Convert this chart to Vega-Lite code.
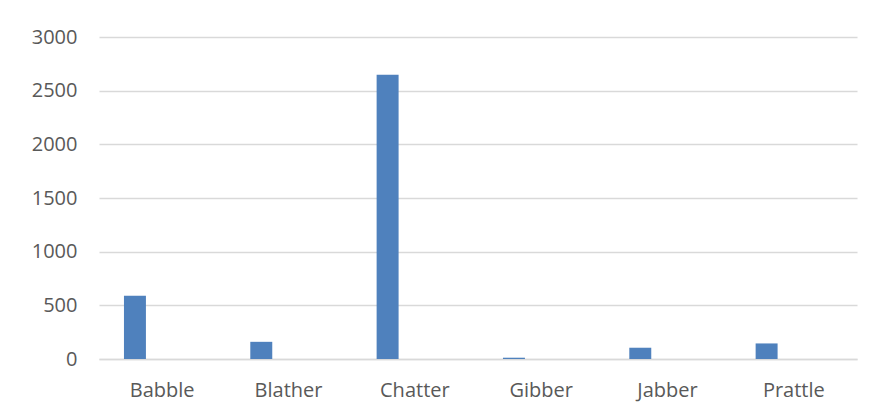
{
  "$schema": "https://vega.github.io/schema/vega-lite/v6.json",
  "width": 758,
  "height": 322,
  "autosize": {"type": "none"},
  "padding": {"left": 99, "top": 37, "right": 16, "bottom": 60},
  "background": "white",
  "config": {
    "view": {"stroke": null},
    "font": "Open Sans",
    "axis": {"labelFont": "Open Sans", "labelFontSize": 20, "labelColor": "#595959"}
  },
  "data": {
    "values": [
      {"category": "Babble", "series": "Series1", "value": 590},
      {"category": "Blather", "series": "Series1", "value": 160},
      {"category": "Chatter", "series": "Series1", "value": 2648},
      {"category": "Gibber", "series": "Series1", "value": 12},
      {"category": "Jabber", "series": "Series1", "value": 105},
      {"category": "Prattle", "series": "Series1", "value": 145}
    ]
  },
  "mark": {"type": "bar", "color": "#4f81bd"},
  "encoding": {
    "x": {
      "field": "category",
      "type": "nominal",
      "sort": null,
      "scale": {"paddingInner": 0, "paddingOuter": 0},
      "axis": {
        "title": null,
        "labelAngle": 0,
        "ticks": false,
        "domain": true,
        "domainColor": "#d9d9d9",
        "domainWidth": 1.3,
        "labelPadding": 21,
        "grid": false
      }
    },
    "xOffset": {
      "field": "series",
      "type": "nominal",
      "scale": {"domain": ["Series1", "Series2", "Series3"], "paddingInner": 0.193, "paddingOuter": 0.917}
    },
    "y": {
      "field": "value",
      "type": "quantitative",
      "scale": {"domain": [0, 3000], "nice": false},
      "axis": {
        "title": null,
        "values": [0, 500, 1000, 1500, 2000, 2500, 3000],
        "format": "d",
        "ticks": false,
        "domain": false,
        "grid": true,
        "gridColor": "#d9d9d9",
        "gridWidth": 1.3,
        "labelPadding": 22
      }
    }
  }
}
